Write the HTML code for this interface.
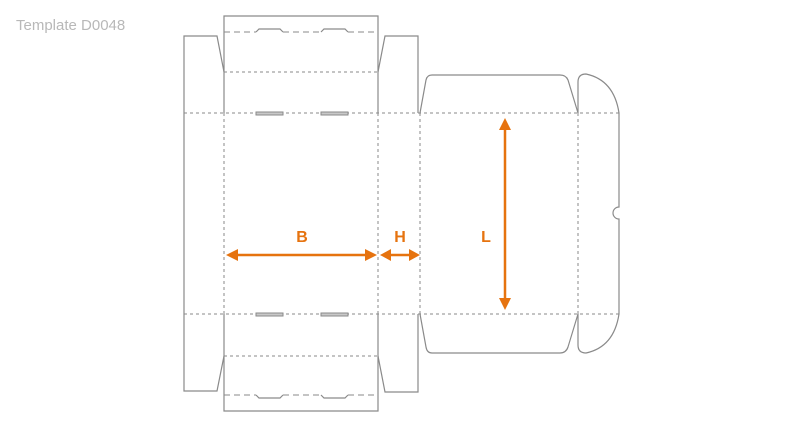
<!DOCTYPE html>
<html><head><style>
html,body{margin:0;padding:0;background:#fff;width:800px;height:431px;overflow:hidden}
</style></head><body>
<svg width="800" height="431" viewBox="0 0 800 431" xmlns="http://www.w3.org/2000/svg">
<text x="16" y="30" font-family="Liberation Sans, sans-serif" font-size="15" fill="#b8b8b8">Template D0048</text>
<g fill="none" stroke="#8a8a8a" stroke-width="1.2">
<path d="M224 72 V16 H378 V72"/>
<path d="M224 356 V411 H378 V356"/>
<path d="M224 72 L217 36 H184 V391 H217 L224 356"/>
<path d="M224 113 V72"/><path d="M224 314 V356"/>
<path d="M378 72 L385 36 H418 V113"/>
<path d="M378 356 L385 392 H418 V314"/>
<path d="M378 113 V72"/><path d="M378 314 V356"/>
<path d="M420 113 L426 80 Q427 75 432 75 H560 Q566 75 568 80 L578 113"/>
<path d="M420 314 L426 347 Q427 353 432 353 H560 Q566 353 568 347 L578 314"/>
<path d="M578 113 V82 Q578 74 586 74 Q614 80 619 113 V207 A6 6 0 0 0 619 219 V314 Q614 347 586 353 Q578 353 578 345 V314"/>
<path d="M256 32 L259 29 H280 L283 32"/><path d="M321 32 L324 29 H345 L348 32"/>
<path d="M256 395 L259 398 H280 L283 395"/><path d="M321 395 L324 398 H345 L348 395"/>
</g>
<g fill="none" stroke="#8a8a8a" stroke-width="1" stroke-dasharray="3,3">
<path d="M184 113 H619"/><path d="M184 314 H619"/>
<path d="M224 72 H378"/><path d="M224 356 H378"/>
<path d="M224 113 V314"/><path d="M378 113 V314"/><path d="M420 113 V314"/><path d="M578 113 V314"/>
</g>
<g fill="none" stroke="#8a8a8a" stroke-width="1" stroke-dasharray="6,4">
<path d="M224 32 H256"/><path d="M283 32 H321"/><path d="M348 32 H378"/>
<path d="M224 395 H256"/><path d="M283 395 H321"/><path d="M348 395 H378"/>
</g>
<g fill="#c8c8c8" stroke="#8a8a8a" stroke-width="1">
<rect x="256" y="112" width="27" height="3"/><rect x="321" y="112" width="27" height="3"/>
<rect x="256" y="313" width="27" height="3"/><rect x="321" y="313" width="27" height="3"/>
</g>
<g stroke="#e6730f" stroke-width="2.5" fill="#e6730f">
<line x1="236" y1="255" x2="366" y2="255"/>
<polygon points="226,255 238,249 238,261" stroke="none"/>
<polygon points="377,255 365,249 365,261" stroke="none"/>
<line x1="388" y1="255" x2="412" y2="255"/>
<polygon points="380,255 391,249 391,261" stroke="none"/>
<polygon points="420,255 409,249 409,261" stroke="none"/>
<line x1="505" y1="128" x2="505" y2="300"/>
<polygon points="505,118 499,130 511,130" stroke="none"/>
<polygon points="505,310 499,298 511,298" stroke="none"/>
</g>
<g font-family="Liberation Sans, sans-serif" font-size="16" font-weight="bold" fill="#e6730f" text-anchor="middle">
<text x="302" y="242">B</text><text x="400" y="242">H</text><text x="486" y="242">L</text>
</g>
</svg>
</body></html>
